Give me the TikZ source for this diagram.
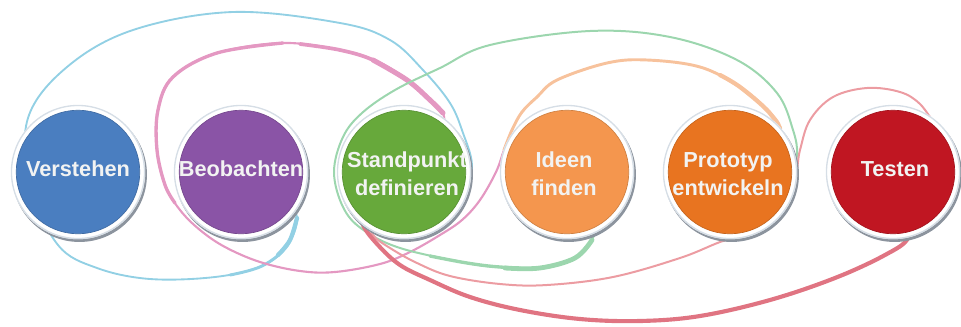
\documentclass[tikz,border=0pt]{standalone}
\usepackage{fontspec}
\newfontfamily\labfont{Liberation Sans}
\definecolor{blueline}{RGB}{146,208,228}
\definecolor{pinkline}{RGB}{228,152,194}
\definecolor{greenline}{RGB}{156,214,174}
\definecolor{orangeline}{RGB}{247,194,156}
\definecolor{redAline}{RGB}{236,156,162}
\definecolor{redBline}{RGB}{224,116,130}
\definecolor{cVer}{RGB}{74,126,192}
\definecolor{cBeo}{RGB}{138,84,166}
\definecolor{cSta}{RGB}{103,169,59}
\definecolor{cIde}{RGB}{244,150,78}
\definecolor{cPro}{RGB}{232,116,32}
\definecolor{cTes}{RGB}{192,22,34}
\definecolor{shadowc}{RGB}{140,148,158}
\definecolor{ringc}{RGB}{214,222,230}
\definecolor{labc}{RGB}{242,243,242}
\tikzset{
  loopline/.style={line cap=round, line join=round},
  lab/.style={text=labc, font=\labfont\bfseries\fontsize{16.3}{21}\selectfont, align=center, inner sep=0pt},
}
\newcommand\dtbubble[2]{%
  \fill[shadowc] ([shift={(1.5,2.5)}]#1) circle[radius=50.6pt];
  \fill[white] (#1) circle[radius=50.4pt];
  \draw[ringc, line width=1pt] (#1) circle[radius=49.9pt];
  \fill[#2] (#1) circle[radius=46.3pt];
  \draw[#2!85!black, line width=0.5pt] (#1) circle[radius=46.3pt];
}
\begin{document}
\begin{tikzpicture}[x=0.75pt,y=-0.75pt]
\useasboundingbox (0,0) rectangle (961,326);
% circle centres
\coordinate (c1) at (78,172);
\coordinate (c2) at (241,172);
\coordinate (c3) at (404,172);
\coordinate (c4) at (567,172);
\coordinate (c5) at (730,172);
\coordinate (c6) at (893,172);
% hidden loop ends
\coordinate (bS) at ([shift={(44,23)}]c2);
\coordinate (bE) at ([shift={(61,23)}]c3);
\coordinate (pS) at ([shift={(40,-45)}]c3);
\coordinate (oE) at ([shift={(40,-27)}]c5);
\coordinate (gS) at ([shift={(31,43)}]c4);
\coordinate (gE) at ([shift={(60,8)}]c5);
\coordinate (rAS) at ([shift={(42,-47)}]c6);
\coordinate (rAE) at ([shift={(-39,43)}]c3);
\coordinate (rBS) at ([shift={(12,43)}]c6);
\coordinate (rBE) at ([shift={(-42,36)}]c3);
% blue loop
\draw[loopline, blueline, line width=1.4pt] plot[smooth, tension=0.6] coordinates {(bS) (297,218) (287,246) (262,266) (215,277) (150,279) (97,268) (58,245) (30,185) (28,118) (67,67) (133,30) (233,12) (340,23) (390,40) (423,70) (450,103) (463,133) (472,165) (bE)};
\draw[loopline, blueline, line width=2.2pt] plot[smooth, tension=0.6] coordinates {(297,218) (287,246) (262,266) (230,275)};
\draw[loopline, blueline, line width=3.2pt] plot[smooth, tension=0.6] coordinates {(297,218) (290,240) (278,255)};
% pink -> orange loop
\draw[loopline, pinkline, line width=1.6pt] plot[smooth, tension=0.6] coordinates {(pS) (443,113) (430,100) (407,80) (373,60) (340,50) (283,43) (217,53) (173,77) (158,110) (157,150) (165,185) (180,210) (200,230) (225,247) (260,262) (300,271) (335,272) (380,264) (410,252) (440,235) (462,220) (480,200) (496,172) (504,150) (512,130)};
\draw[loopline, pinkline, line width=2.5pt] plot[smooth, tension=0.6] coordinates {(283,43) (217,53) (173,77) (158,110) (157,150) (165,185) (175,203)};
\draw[loopline, pinkline, line width=2.8pt] plot[smooth, tension=0.6] coordinates {(300,44) (340,50) (373,60) (407,80) (430,100) (443,113)};
\draw[loopline, pinkline, line width=3.8pt] plot[smooth, tension=0.6] coordinates {(373,60) (407,80) (430,100) (443,113)};
\draw[loopline, orangeline, line width=2.2pt] plot[smooth, tension=0.6] coordinates {(504,150) (512,130) (522,112) (537,97) (557,80) (607,63) (647,60) (700,67) (740,87) (767,110) (780,128) (oE)};
\draw[loopline, orangeline, line width=3.2pt] plot[smooth, tension=0.6] coordinates {(720,75) (740,87) (767,110) (780,128)};
% green loop
\draw[loopline, greenline, line width=1.5pt] plot[smooth, tension=0.6] coordinates {(gS) (592,240) (575,258) (540,268) (500,267) (467,263) (400,248) (362,229) (343,207) (334,172) (343,137) (362,113) (395,90) (440,68) (490,45) (590,31) (670,37) (737,60) (777,93) (793,130) (797,155) (gE)};
\draw[loopline, greenline, line width=2.5pt] plot[smooth, tension=0.6] coordinates {(592,240) (575,258) (540,268) (500,267) (467,263) (430,256)};
\draw[loopline, greenline, line width=3.6pt] plot[smooth, tension=0.6] coordinates {(592,240) (575,258) (540,268) (505,268)};
% red loops
\draw[loopline, redAline, line width=1.5pt] plot[smooth, tension=0.6] coordinates {(rAS) (920,104) (900,92) (867,88) (833,97) (810,120) (800,150) (792,185) (760,228) (720,242) (680,258) (613,277) (547,285) (500,284) (450,276) (417,263) (390,248) (373,235) (rAE)};
\draw[loopline, redBline, line width=3.1pt] plot[smooth, tension=0.6] coordinates {(rBS) (908,238) (885,255) (835,278) (770,300) (700,316) (640,321) (580,319) (520,310) (470,297) (430,280) (400,265) (378,245) (363,225) (rBE)};
% bubbles
\dtbubble{c1}{cVer}
\dtbubble{c2}{cBeo}
\dtbubble{c3}{cSta}
\dtbubble{c4}{cIde}
\dtbubble{c5}{cPro}
\dtbubble{c6}{cTes}
\node[lab] (n1) at (78,169) {Verstehen};
\node[lab] (n2) at (241,169) {Beobachten};
\node[lab] (n3) at (407,174) {Standpunkt\\definieren};
\node[lab] (n4) at (564,174) {Ideen\\finden};
\node[lab] (n5) at (728,174) {Prototyp\\entwickeln};
\node[lab] (n6) at (895,169) {Testen};
\end{tikzpicture}
\end{document}
